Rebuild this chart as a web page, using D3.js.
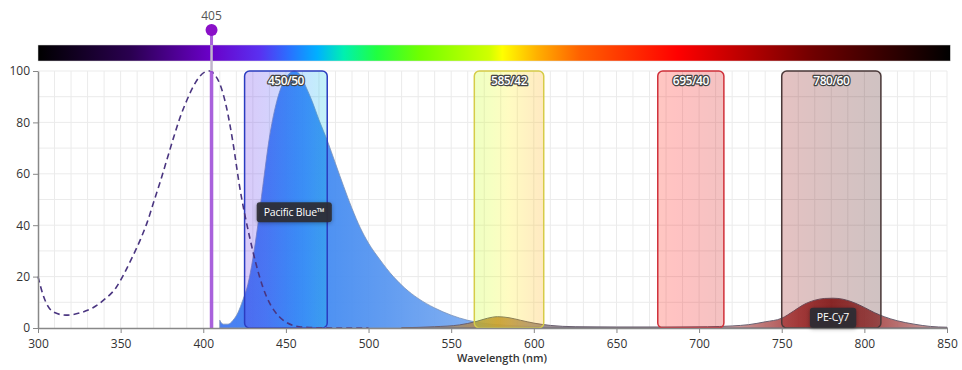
<!DOCTYPE html>
<html>
<head>
<meta charset="utf-8">
<script src="https://cdn.jsdelivr.net/npm/d3@7"></script>
<style>
  body { margin: 0; background: #fff; font-family: "Open Sans", "Noto Sans", sans-serif; }
  svg { display: block; }
</style>
</head>
<body>
<div id="chart"></div>
<script>
// wavelength range and ticks
const xDomain = [300, 850];
const xTicks = [300, 350, 400, 450, 500, 550, 600, 650, 700, 750, 800, 850];
const yTicks = [0, 20, 40, 60, 80, 100];

// laser line
const laserWl = 405;

// spectrum bar colour stops
const spectrumWl = [300, 356, 404, 434, 452, 469, 485, 505, 531, 573, 581, 602, 628, 687, 769, 852];
const spectrumColors = ['#000000', '#2a0050', '#6a00c8', '#5a30f0', '#2a70ff', '#00b0ff', '#00f0b0',
  '#20ff40', '#70ff00', '#d0ff00', '#ffff00', '#ffb000', '#ff6000', '#ff0000', '#700000', '#000000'];

// filters
const filterCenters = [450, 585, 695, 780];
const filterWidths = [50, 42, 40, 60];
const filterStrokes = ['#2a3cc0', '#d6cc48', '#d0303a', '#4a3838'];

// Pacific Blue excitation (dashed)
const pbExWl = [300, 303, 306, 310, 317, 325, 333, 340, 347, 352, 357, 362, 366, 370, 374, 378, 382, 386, 390, 394, 398, 401, 404,
  407, 410, 414, 418, 422, 428, 436, 446, 458, 470, 485, 500];
const pbExVal = [20, 13, 8.5, 6, 5, 5.8, 7.8, 11, 15.5, 21, 27.5, 34.5, 41, 49, 57, 65.5, 74, 82, 88.5, 94, 98, 99.6, 100,
  98.5, 95, 86, 72, 55, 35.5, 16, 4.4, 0.5, 0.1, 0, 0];

// Pacific Blue emission
const pbEmWl = [410, 412, 415, 418, 421, 424, 427, 430, 433, 436, 440, 444, 448, 452, 455, 458, 462, 466, 470, 475, 480, 485,
  490, 495, 500, 507, 515, 522, 530, 540, 550, 560, 570, 585, 600, 620, 640];
const pbEmVal = [3, 1.5, 1.5, 3, 6, 11, 17, 27, 40, 55, 74, 87, 95, 99, 100, 99, 94, 88, 81, 73, 64, 55,
  46.5, 39, 33, 26.5, 20, 15.5, 11.5, 7.8, 5, 3, 1.8, 1, 0.6, 0.3, 0];

// PE-Cy7 emission
const peEmWl = [520, 540, 555, 565, 572, 578, 585, 592, 600, 610, 625, 650, 680, 705, 720, 730, 740, 750, 757, 763, 770, 776,
  781, 787, 794, 800, 806, 812, 820, 830, 840, 850];
const peEmVal = [0.1, 0.5, 1.2, 2.5, 3.8, 4.4, 4, 3, 1.9, 1, 0.5, 0.4, 0.4, 0.5, 0.8, 1.3, 2.4, 3.8, 6.5, 9, 10.8, 11.5,
  11.6, 11.2, 9.8, 8, 6, 4.4, 2.8, 1.5, 0.6, 0.3];

// tooltips
const tipNames = ['Pacific Blue™', 'PE-Cy7'];
const tipWl = [455, 781];
const tipVal = [45, 4];

const width = 962;
const height = 370;
const margin = { top: 71, right: 15, bottom: 42, left: 38 };
const innerWidth = width - margin.left - margin.right;
const innerHeight = height - margin.top - margin.bottom;

const svg = d3.select('#chart')
  .append('svg')
  .attr('width', width)
  .attr('height', height);

const defs = svg.append('defs');

const x = d3.scaleLinear().domain(xDomain).range([0, innerWidth]);
const y = d3.scaleLinear().domain([0, 100]).range([innerHeight, 0]);
const specColor = d3.scaleLinear().domain(spectrumWl).range(spectrumColors).interpolate(d3.interpolateRgb).clamp(true);

// drop shadow for tooltips
const shadow = defs.append('filter').attr('id', 'shadow').attr('x', '-30%').attr('y', '-40%').attr('width', '160%').attr('height', '200%');
shadow.append('feDropShadow').attr('dx', 0).attr('dy', 1).attr('stdDeviation', 2).attr('flood-color', '#000').attr('flood-opacity', 0.35);

// spectrum bar gradient
const specGrad = defs.append('linearGradient')
  .attr('id', 'spec-grad')
  .attr('gradientUnits', 'userSpaceOnUse')
  .attr('x1', margin.left + x(300)).attr('x2', margin.left + x(852));
specGrad.selectAll('stop')
  .data(spectrumWl)
  .enter()
  .append('stop')
  .attr('offset', d => (d - 300) / (852 - 300))
  .attr('stop-color', (d, i) => spectrumColors[i]);

svg.append('rect')
  .attr('x', margin.left + x(300))
  .attr('y', 45)
  .attr('width', x(852) - x(300))
  .attr('height', 16)
  .attr('fill', 'url(#spec-grad)')
  .attr('stroke', '#d8d8d8')
  .attr('stroke-width', 0.5);

const g = svg.append('g').attr('transform', `translate(${margin.left}, ${margin.top})`);

// grid
g.append('g')
  .selectAll('line')
  .data(d3.range(310, 851, 10))
  .enter()
  .append('line')
  .attr('x1', d => x(d)).attr('x2', d => x(d))
  .attr('y1', 0).attr('y2', innerHeight)
  .attr('stroke', '#ebebeb')
  .attr('stroke-width', 1);

g.append('g')
  .selectAll('line')
  .data(d3.range(10, 101, 10))
  .enter()
  .append('line')
  .attr('x1', 0).attr('x2', x(850))
  .attr('y1', d => y(d)).attr('y2', d => y(d))
  .attr('stroke', '#ebebeb')
  .attr('stroke-width', 1);

// area fills
const pbGrad = defs.append('linearGradient')
  .attr('id', 'pb-grad')
  .attr('gradientUnits', 'userSpaceOnUse')
  .attr('x1', x(410)).attr('x2', x(640));
pbGrad.append('stop').attr('offset', 0).attr('stop-color', '#4078f2');
pbGrad.append('stop').attr('offset', 0.2).attr('stop-color', '#3a86f2');
pbGrad.append('stop').attr('offset', 0.45).attr('stop-color', '#5b98f0');
pbGrad.append('stop').attr('offset', 0.7).attr('stop-color', '#80aef0');
pbGrad.append('stop').attr('offset', 1).attr('stop-color', '#a8c4f0');

const peGrad = defs.append('linearGradient')
  .attr('id', 'pe-grad')
  .attr('gradientUnits', 'userSpaceOnUse')
  .attr('x1', x(520)).attr('x2', x(850));
[[520, '#8090b8'], [560, '#a88a60'], [578, '#c0823a'], [600, '#9a8a8a'], [640, '#8a8088'], [720, '#c89090'],
 [760, '#a43838'], [780, '#8a1c1c'], [805, '#a44040'], [850, '#c8a0a0']].forEach(s => {
  peGrad.append('stop').attr('offset', (s[0] - 520) / 330).attr('stop-color', s[1]);
});

const area = d3.area()
  .x(d => x(d[0]))
  .y0(y(0))
  .y1(d => y(d[1]))
  .curve(d3.curveMonotoneX);

g.append('path')
  .datum(pbEmWl.map((w, i) => [w, pbEmVal[i]]))
  .attr('d', area)
  .attr('fill', 'url(#pb-grad)')
  .attr('fill-opacity', 0.95)
  .attr('stroke', '#7890b8')
  .attr('stroke-width', 0.8);

g.append('path')
  .datum(peEmWl.map((w, i) => [w, peEmVal[i]]))
  .attr('d', area)
  .attr('fill', 'url(#pe-grad)')
  .attr('fill-opacity', 0.9)
  .attr('stroke', '#6a6070')
  .attr('stroke-width', 1);

// filter boxes
const filters = filterCenters.map((c, i) => ({
  lo: c - filterWidths[i] / 2,
  hi: c + filterWidths[i] / 2,
  label: `${c}/${filterWidths[i]}`,
  stroke: filterStrokes[i],
  id: 'filt-' + i
}));

filters.forEach(f => {
  const grad = defs.append('linearGradient')
    .attr('id', f.id)
    .attr('gradientUnits', 'userSpaceOnUse')
    .attr('x1', x(f.lo)).attr('x2', x(f.hi));
  d3.range(0, 1.01, 0.25).forEach(t => {
    grad.append('stop').attr('offset', t).attr('stop-color', specColor(f.lo + t * (f.hi - f.lo)));
  });
});

const box = g.append('g')
  .selectAll('g')
  .data(filters)
  .enter()
  .append('g');

box.append('rect')
  .attr('x', d => x(d.lo))
  .attr('y', y(100))
  .attr('width', d => x(d.hi) - x(d.lo))
  .attr('height', y(0) - y(100))
  .attr('rx', 5)
  .attr('fill', d => `url(#${d.id})`)
  .attr('fill-opacity', 0.24)
  .attr('stroke', d => d.stroke)
  .attr('stroke-width', 1.5);

box.append('text')
  .attr('x', d => (x(d.lo) + x(d.hi)) / 2)
  .attr('y', y(100) + 14)
  .attr('text-anchor', 'middle')
  .style('font-size', '12px')
  .style('font-weight', '600')
  .style('letter-spacing', '-0.5px')
  .attr('fill', '#fff')
  .attr('stroke', '#444')
  .attr('stroke-width', 2.5)
  .attr('paint-order', 'stroke')
  .attr('stroke-linejoin', 'round')
  .text(d => d.label);

// excitation dashed
g.append('path')
  .datum(pbExWl.map((w, i) => [w, pbExVal[i]]))
  .attr('d', d3.line().x(d => x(d[0])).y(d => y(d[1])).curve(d3.curveMonotoneX))
  .attr('fill', 'none')
  .attr('stroke', '#4a3580')
  .attr('stroke-width', 1.6)
  .attr('stroke-dasharray', '6,4');

// laser line
const lx = x(laserWl);
svg.append('line')
  .attr('x1', margin.left + lx).attr('x2', margin.left + lx)
  .attr('y1', 30).attr('y2', margin.top)
  .attr('stroke', '#c0b4cc')
  .attr('stroke-width', 2.5);
svg.append('line')
  .attr('x1', margin.left + lx).attr('x2', margin.left + lx)
  .attr('y1', 30).attr('y2', 45)
  .attr('stroke', '#a860dc')
  .attr('stroke-width', 3);
g.append('line')
  .attr('x1', lx).attr('x2', lx)
  .attr('y1', y(100)).attr('y2', y(0))
  .attr('stroke', '#a050d8')
  .attr('stroke-width', 3.5)
  .attr('stroke-opacity', 0.9);
svg.append('circle')
  .attr('cx', margin.left + lx)
  .attr('cy', 30)
  .attr('r', 6)
  .attr('fill', '#8a10c8');
svg.append('text')
  .attr('x', margin.left + lx)
  .attr('y', 20)
  .attr('text-anchor', 'middle')
  .style('font-size', '12px')
  .attr('fill', '#555')
  .text(laserWl);

// axes
const xAxis = g.append('g')
  .attr('transform', `translate(0, ${innerHeight})`)
  .call(d3.axisBottom(x).tickValues(xTicks).tickSize(5).tickSizeOuter(0));
const yAxis = g.append('g')
  .call(d3.axisLeft(y).tickValues(yTicks).tickSize(5).tickSizeOuter(0));

[xAxis, yAxis].forEach(a => {
  a.select('.domain').attr('stroke', '#888').attr('stroke-width', 1.5);
  a.selectAll('.tick line').attr('stroke', '#888');
  a.selectAll('.tick text')
    .attr('fill', '#333')
    .style('font-size', '12px')
    .style('font-family', '"Open Sans", sans-serif');
});
xAxis.selectAll('.tick text').attr('dy', '1em');

svg.append('text')
  .attr('x', 502)
  .attr('y', 362)
  .attr('text-anchor', 'middle')
  .style('font-size', '11px')
  .style('font-weight', '600')
  .attr('fill', '#333')
  .text('Wavelength (nm)');

// tooltips
tipNames.forEach((name, i) => {
  const tg = g.append('g').attr('transform', `translate(${x(tipWl[i])}, ${y(tipVal[i])})`);
  const t = tg.append('text')
    .attr('text-anchor', 'middle')
    .attr('dy', '0.35em')
    .style('font-size', '10.5px')
    .style('letter-spacing', '-0.2px')
    .attr('fill', '#fff')
    .text(name);
  const bb = t.node().getBBox();
  tg.insert('rect', 'text')
    .attr('x', bb.x - 7)
    .attr('y', -10)
    .attr('width', bb.width + 14)
    .attr('height', 20)
    .attr('rx', 3)
    .attr('fill', '#2b2e33')
    .attr('fill-opacity', 0.92)
    .attr('filter', 'url(#shadow)');
});
</script>
</body>
</html>
